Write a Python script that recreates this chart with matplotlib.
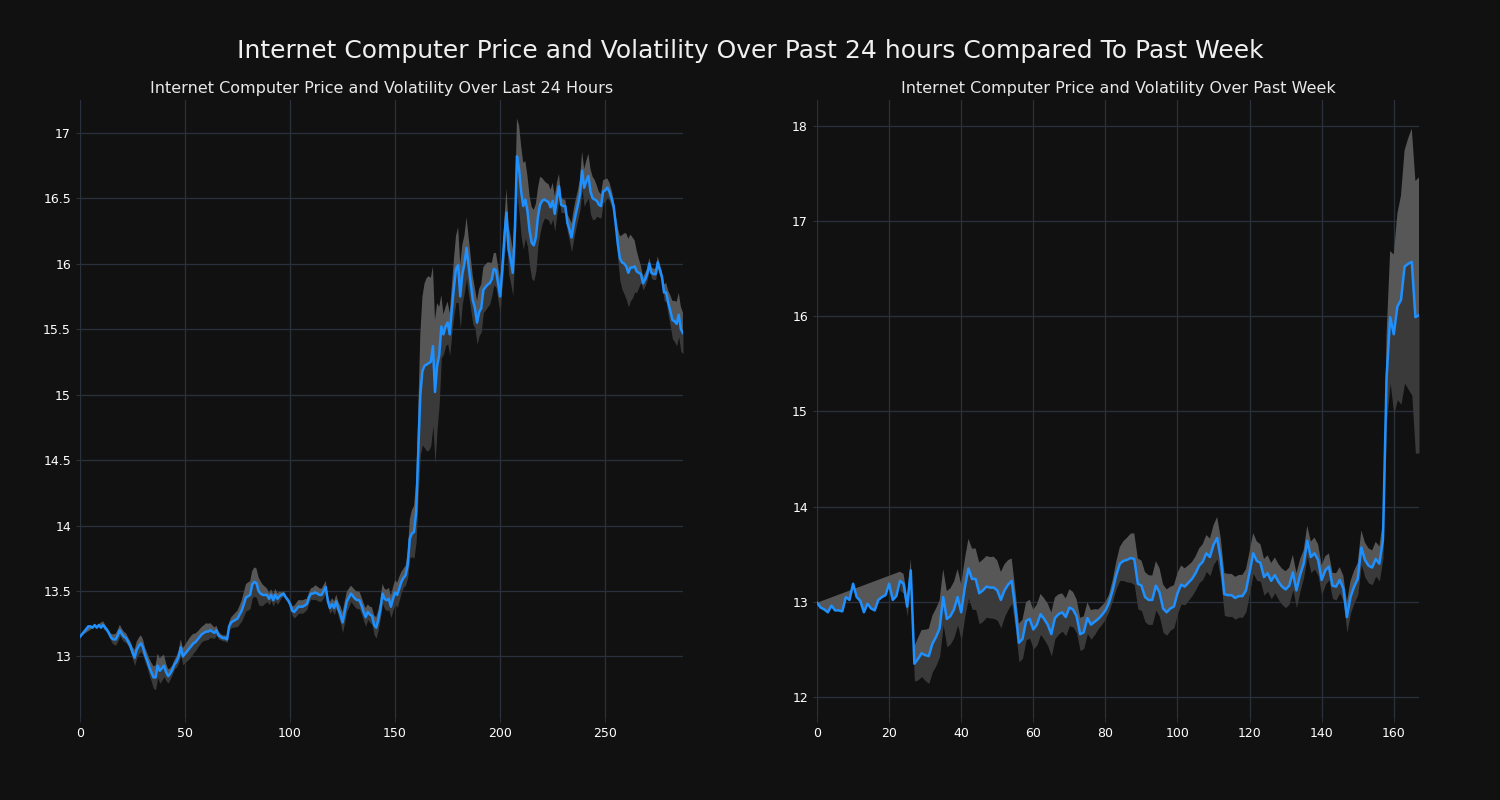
import numpy as np
import pandas as pd
import matplotlib
matplotlib.use("Agg")
import matplotlib.pyplot as plt
from matplotlib.ticker import MultipleLocator

# 5-minute prices over the last 24 hours
day_prices = [
    13.15, 13.17, 13.19, 13.21, 13.23, 13.23, 13.22, 13.24, 13.22, 13.24,
    13.22, 13.24, 13.22, 13.20, 13.17, 13.14, 13.13, 13.13, 13.16, 13.20,
    13.17, 13.15, 13.14, 13.11, 13.08, 13.03, 12.99, 13.05, 13.08, 13.10,
    13.07, 13.01, 12.97, 12.92, 12.88, 12.84, 12.84, 12.93, 12.89, 12.91,
    12.93, 12.88, 12.85, 12.87, 12.90, 12.94, 12.96, 13.00, 13.07, 13.00,
    13.02, 13.04, 13.06, 13.08, 13.10, 13.11, 13.13, 13.15, 13.17, 13.18,
    13.19, 13.19, 13.20, 13.19, 13.18, 13.20, 13.16, 13.15, 13.14, 13.14,
    13.13, 13.23, 13.26, 13.27, 13.28, 13.29, 13.32, 13.35, 13.40, 13.45,
    13.46, 13.47, 13.55, 13.57, 13.56, 13.50, 13.48, 13.47, 13.47, 13.47,
    13.44, 13.47, 13.43, 13.47, 13.44, 13.46, 13.47, 13.48, 13.45, 13.43,
    13.40, 13.35, 13.34, 13.36, 13.38, 13.38, 13.38, 13.39, 13.40, 13.45,
    13.48, 13.48, 13.49, 13.48, 13.47, 13.47, 13.50, 13.53, 13.42, 13.37,
    13.40, 13.37, 13.42, 13.36, 13.32, 13.26, 13.34, 13.42, 13.45, 13.48,
    13.46, 13.44, 13.43, 13.43, 13.39, 13.34, 13.30, 13.34, 13.32, 13.31,
    13.24, 13.22, 13.28, 13.36, 13.48, 13.44, 13.43, 13.44, 13.38, 13.44,
    13.49, 13.47, 13.52, 13.57, 13.60, 13.62, 13.70, 13.90, 13.94, 13.95,
    14.10, 14.55, 15.00, 15.18, 15.22, 15.23, 15.24, 15.25, 15.37, 15.02,
    15.22, 15.30, 15.52, 15.46, 15.52, 15.55, 15.46, 15.65, 15.82, 15.96,
    15.99, 15.75, 15.92, 16.00, 16.12, 15.98, 15.85, 15.72, 15.66, 15.55,
    15.63, 15.66, 15.80, 15.82, 15.84, 15.85, 15.88, 15.96, 15.95, 15.85,
    15.75, 15.95, 16.20, 16.39, 16.11, 16.03, 15.93, 16.25, 16.82, 16.72,
    16.55, 16.44, 16.49, 16.40, 16.25, 16.16, 16.14, 16.20, 16.36, 16.45,
    16.48, 16.49, 16.48, 16.47, 16.43, 16.48, 16.38, 16.50, 16.59, 16.45,
    16.44, 16.44, 16.31, 16.26, 16.20, 16.30, 16.38, 16.45, 16.53, 16.71,
    16.58, 16.63, 16.67, 16.55, 16.50, 16.49, 16.48, 16.45, 16.44, 16.55,
    16.56, 16.58, 16.55, 16.50, 16.44, 16.30, 16.15, 16.04, 16.01, 16.00,
    15.98, 15.93, 15.97, 15.97, 15.98, 15.94, 15.93, 15.92, 15.85, 15.88,
    15.92, 16.00, 15.93, 15.92, 15.92, 16.01, 15.95, 15.90, 15.78, 15.78,
    15.70, 15.64, 15.57, 15.56, 15.54, 15.61, 15.50, 15.47,
]

# hourly prices over the past week
week_prices = [
    12.99, 12.94, 12.92, 12.89, 12.96, 12.91, 12.91, 12.90, 13.05, 13.02,
    13.19, 13.05, 13.01, 12.89, 12.98, 12.93, 12.91, 13.02, 13.05, 13.07,
    13.19, 13.02, 13.06, 13.22, 13.19, 12.95, 13.33, 12.35, 12.40, 12.46,
    12.44, 12.43, 12.56, 12.63, 12.72, 13.05, 12.82, 12.85, 12.92, 13.05,
    12.89, 13.15, 13.35, 13.24, 13.24, 13.09, 13.12, 13.16, 13.15, 13.15,
    13.12, 13.02, 13.12, 13.18, 13.22, 12.93, 12.57, 12.61, 12.80, 12.82,
    12.71, 12.76, 12.87, 12.82, 12.76, 12.66, 12.83, 12.87, 12.89, 12.84,
    12.94, 12.92, 12.85, 12.66, 12.68, 12.83, 12.76, 12.79, 12.82, 12.86,
    12.91, 12.99, 13.12, 13.28, 13.40, 13.43, 13.44, 13.46, 13.45, 13.19,
    13.17, 13.05, 13.02, 13.02, 13.17, 13.10, 12.93, 12.89, 12.93, 12.95,
    13.09, 13.18, 13.16, 13.20, 13.24, 13.30, 13.38, 13.42, 13.51, 13.47,
    13.60, 13.67, 13.45, 13.08, 13.07, 13.07, 13.04, 13.06, 13.06, 13.12,
    13.31, 13.51, 13.43, 13.41, 13.26, 13.30, 13.22, 13.28, 13.21, 13.16,
    13.13, 13.17, 13.31, 13.12, 13.28, 13.40, 13.64, 13.47, 13.51, 13.44,
    13.23, 13.33, 13.37, 13.17, 13.16, 13.23, 13.14, 12.84, 13.05, 13.16,
    13.24, 13.57, 13.44, 13.38, 13.36, 13.45, 13.40, 13.65, 15.35, 15.99,
    15.81, 16.10, 16.17, 16.52, 16.55, 16.57, 15.99, 16.01,
]

BG = '#111111'
GRID = '#2a313c'
LINE = '#1e90ff'


def draw(ax, prices, window, title, ylim, ystep):
    s = pd.Series(prices)
    x = np.arange(len(s))
    std = s.rolling(window).std()
    upper = s + std
    lower = s - std
    ok = upper.notna().values
    # upper half of the band as a polygon (closes back to the first price)
    ax.fill(np.concatenate([x[ok], x[::-1]]),
            np.concatenate([upper[ok].values, s.values[::-1]]),
            color='#575757', lw=0, zorder=2)
    ax.fill_between(x, lower, s, color='#3a3a3a', lw=0, zorder=2)
    ax.plot(x, s, color=LINE, lw=1.8, zorder=3)
    ax.set_facecolor(BG)
    ax.set_xlim(0, len(s) - 1)
    ax.set_ylim(*ylim)
    ax.yaxis.set_major_locator(MultipleLocator(ystep))
    ax.grid(True, color=GRID, lw=0.9)
    ax.set_axisbelow(True)
    for sp in ax.spines.values():
        sp.set_visible(False)
    ax.tick_params(colors='white', labelsize=9, length=3, color=GRID)
    ax.yaxis.set_major_formatter(plt.FuncFormatter(lambda v, p: '%g' % v))
    ax.set_title(title, color='#e8e8e8', fontsize=11.5, pad=5)


fig = plt.figure(figsize=(15, 8), dpi=100, facecolor=BG)
ax1 = fig.add_axes([0.0533, 0.1025, 0.402, 0.7725])
ax2 = fig.add_axes([0.5447, 0.1025, 0.4013, 0.7725])

draw(ax1, day_prices, 12, 'Internet Computer Price and Volatility Over Last 24 Hours', (12.53, 17.25), 0.5)
draw(ax2, week_prices, 24, 'Internet Computer Price and Volatility Over Past Week', (11.78, 18.27), 1)

fig.suptitle('Internet Computer Price and Volatility Over Past 24 hours Compared To Past Week',
             color='#f0f0f0', fontsize=18, y=0.951)

plt.savefig('out.png', facecolor=BG)
